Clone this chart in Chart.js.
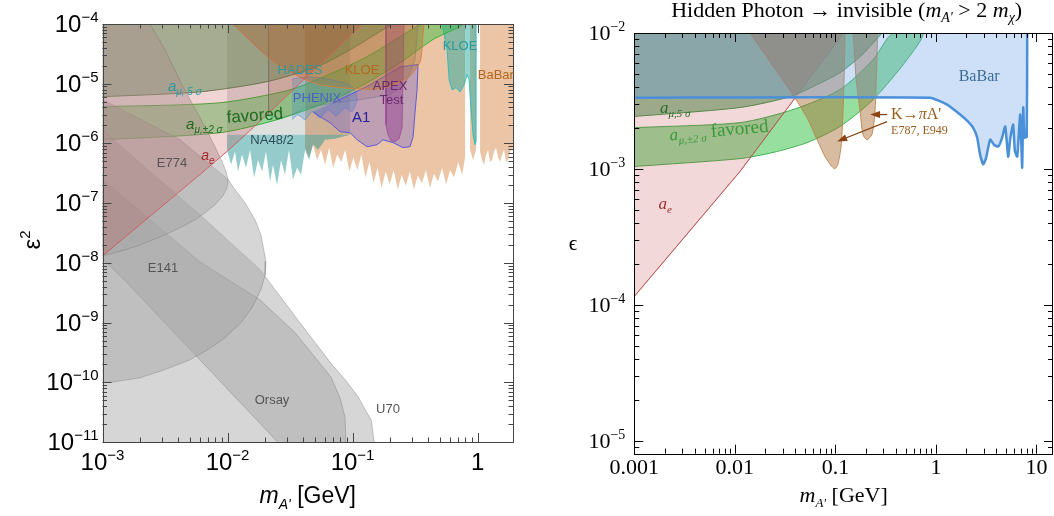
<!DOCTYPE html>
<html>
<head>
<meta charset="utf-8">
<script src="https://cdn.jsdelivr.net/npm/chart.js@4.4.1/dist/chart.umd.min.js"></script>
<style>
  html, body { margin: 0; padding: 0; background: #fff; }
  #wrap { position: relative; width: 1054px; height: 516px; overflow: hidden; }
  #left { position: absolute; left: 0; top: 0; }
  #right { position: absolute; left: 540px; top: 0; }
</style>
</head>
<body>
<div id="wrap">
  <canvas id="left" width="530" height="516"></canvas>
  <canvas id="right" width="514" height="516"></canvas>
</div>
<script>
// ---------- left panel: [m_A' (GeV), eps^2] ----------
const leftMassTicks = [1e-3, 1e-2, 1e-1, 1];
const leftMassLabels = [["10", "−3"], ["10", "−2"], ["10", "−1"], ["1", ""]];
const leftEpsTicks = [1e-4, 1e-5, 1e-6, 1e-7, 1e-8, 1e-9, 1e-10, 1e-11];
const leftEpsLabels = [["10", "−4"], ["10", "−5"], ["10", "−6"], ["10", "−7"], ["10", "−8"], ["10", "−9"], ["10", "−10"], ["10", "−11"]];

const u70 = [[1e-3, 1.7e-6], [2.4e-3, 3.36e-7], [6.0e-3, 6.4e-8], [1.82e-2, 7.7e-9], [3.8e-2, 9.9e-10], [6.7e-2, 2.1e-10], [8.71e-2, 1.11e-10], [0.111, 5.7e-11], [0.126, 3.5e-11], [0.141, 2.35e-11], [0.149, 1e-11], [0.149, 8e-12], [1e-3, 8e-12]];
const orsay = [[1e-3, 2.5e-7], [6.0e-3, 1.04e-8], [1.82e-2, 2.4e-9], [3.47e-2, 6.75e-10], [6.7e-2, 1.24e-10], [7.94e-2, 5.5e-11], [8.7e-2, 2.6e-11], [8.9e-2, 8e-12], [2.78e-2, 8e-12], [1.57e-3, 4.65e-9], [1e-3, 1.17e-8]];
const e141 = [[1e-3, 5.4e-6], [4.17e-3, 1.15e-6], [1.01e-2, 2.5e-7], [1.148e-2, 1.68e-7], [1.38e-2, 1.02e-7], [1.66e-2, 5.27e-8], [1.85e-2, 2.95e-8], [2.03e-2, 1.05e-8], [2.0e-2, 6.3e-9], [1.85e-2, 3.55e-9], [1.57e-2, 1.77e-9], [1.28e-2, 1.0e-9], [9.55e-3, 5.56e-10], [7.0e-3, 3.55e-10], [5.01e-3, 2.38e-10], [3.16e-3, 1.63e-10], [2.0e-3, 1.19e-10], [1.17e-3, 1.0e-10], [1e-3, 1.0e-10]];
const e774 = [[1e-3, 1e-4], [2.4e-3, 1e-4], [3.16e-3, 3.7e-5], [4.32e-3, 9.6e-6], [6.03e-3, 2.69e-6], [7.8e-3, 9.5e-7], [9.04e-3, 4.93e-7], [9.73e-3, 3.4e-7], [1.01e-2, 2.47e-7], [9.91e-3, 1.81e-7], [9.2e-3, 1.33e-7], [7.94e-3, 9.4e-8], [6.61e-3, 6.9e-8], [5.5e-3, 5.27e-8], [4.17e-3, 3.87e-8], [3.16e-3, 2.95e-8], [2.4e-3, 2.34e-8], [1.82e-3, 1.86e-8], [1.33e-3, 1.53e-8], [1e-3, 1.31e-8]];

const babarA = [[0.0417, 1e-4], [0.0417, 8.5e-7], [0.0449, 5.8e-7], [0.0483, 9.5e-7], [0.052, 5.3e-7], [0.056, 7.8e-7], [0.0603, 4.4e-7], [0.065, 8.5e-7], [0.07, 3.9e-7], [0.0754, 6.5e-7], [0.0812, 4.9e-7], [0.0875, 7.8e-7], [0.0942, 3.4e-7], [0.1015, 5.8e-7], [0.1093, 3.6e-7], [0.1178, 6.5e-7], [0.1268, 2.7e-7], [0.1366, 4.9e-7], [0.1472, 2.2e-7], [0.1585, 3.9e-7], [0.1707, 1.8e-7], [0.1839, 3.4e-7], [0.198, 2.05e-7], [0.2133, 3.6e-7], [0.2297, 1.7e-7], [0.2474, 3.0e-7], [0.2665, 1.95e-7], [0.287, 3.4e-7], [0.3091, 1.7e-7], [0.333, 2.9e-7], [0.3586, 2.15e-7], [0.3863, 3.6e-7], [0.416, 1.8e-7], [0.448, 3.1e-7], [0.4827, 2.3e-7], [0.52, 3.9e-7], [0.56, 2.05e-7], [0.603, 3.6e-7], [0.649, 2.7e-7], [0.699, 4.9e-7], [0.753, 3.0e-7], [0.794, 5.8e-7], [0.794, 1e-4]];
const babarB = [[0.871, 1e-4], [0.871, 7.8e-7], [0.92, 5.3e-7], [0.973, 7.8e-7], [0.973, 1e-4]];
const babarC = [[1.047, 1e-4], [1.047, 7.3e-7], [1.087, 5.3e-7], [1.127, 4.4e-7], [1.17, 6.5e-7], [1.213, 7.8e-7], [1.26, 4.9e-7], [1.306, 5.3e-7], [1.355, 7.3e-7], [1.406, 8.5e-7], [1.46, 5.8e-7], [1.514, 4.93e-7], [1.57, 6.5e-7], [1.63, 7.8e-7], [1.69, 4.9e-7], [1.754, 5.3e-7], [1.82, 7.3e-7], [1.888, 8.5e-7], [1.96, 5.8e-7], [2.03, 6.5e-7], [2.03, 1e-4]];
const na48Spikes = [[0.00991, 1.4e-6], [0.00991, 7.8e-7], [0.01067, 4.4e-7], [0.01148, 7.3e-7], [0.01213, 3.4e-7], [0.01306, 6.5e-7], [0.01406, 3.9e-7], [0.01514, 7.8e-7], [0.0163, 2.7e-7], [0.01754, 5.3e-7], [0.0189, 3.4e-7], [0.0203, 7.3e-7], [0.0219, 2.3e-7], [0.0231, 4.4e-7], [0.0249, 2.0e-7], [0.0268, 5.3e-7], [0.0288, 3.0e-7], [0.031, 7.8e-7], [0.0334, 2.5e-7], [0.036, 3.9e-7], [0.0387, 3.0e-7], [0.0417, 7.8e-7], [0.0449, 5.3e-7], [0.0483, 9.5e-7], [0.053, 7.8e-7], [0.0603, 1.15e-6], [0.0724, 1.2e-6], [0.0955, 1.4e-6]];
const na48Upper = [[0.00991, 1.4e-6], [0.0955, 1.4e-6], [0.0955, 1e-4], [0.00991, 1e-4]];
const kloeTeal = [[0.52, 1e-4], [0.57, 3.7e-5], [0.592, 1.17e-5], [0.625, 7.9e-6], [0.673, 8.6e-6], [0.724, 7.3e-6], [0.78, 9.6e-6], [0.824, 1.42e-5], [0.855, 1.17e-5], [0.887, 3.67e-6], [0.92, 1.4e-6], [0.955, 9.5e-7], [0.973, 1.1e-6], [0.973, 1e-4]];
const kloeBrown = [[0.01107, 1e-4], [0.0219, 2.62e-5], [0.0402, 1.21e-5], [0.055, 9.6e-6], [0.101, 8.25e-6], [0.166, 8.25e-6], [0.273, 1.21e-5], [0.347, 2.33e-5], [0.366, 6.6e-5], [0.373, 1e-4]];
const hades = [[0.0213, 1e-4], [0.0213, 2.9e-6], [0.0263, 2.69e-6], [0.0328, 3.0e-6], [0.0417, 3.96e-6], [0.0661, 4.62e-6], [0.1148, 5.4e-6], [0.1995, 6.55e-6], [0.263, 9.6e-6], [0.316, 2.52e-5], [0.334, 1e-4]];
const phenix = [[0.0328, 1.2e-5], [0.045, 1.3e-5], [0.07, 1.15e-5], [0.095, 9.5e-6], [0.105, 7.5e-6], [0.1087, 5.4e-6], [0.099, 3.4e-6], [0.0871, 3.96e-6], [0.0738, 2.91e-6], [0.0637, 3.67e-6], [0.055, 2.69e-6], [0.0474, 3.4e-6], [0.0417, 2.5e-6], [0.0366, 3.03e-6], [0.0328, 2.5e-6]];
const a1 = [[0.0483, 3.4e-6], [0.055, 2.8e-6], [0.0661, 2.22e-6], [0.0794, 1.57e-6], [0.0955, 1.51e-6], [0.1087, 1.15e-6], [0.1306, 8.8e-7], [0.157, 9.5e-7], [0.175, 1.15e-6], [0.211, 1.03e-6], [0.2535, 8.5e-7], [0.288, 8.8e-7], [0.305, 1.29e-6], [0.316, 3.27e-6], [0.328, 7.9e-6], [0.334, 2.1e-5], [0.24, 1.9e-5], [0.1306, 9.0e-6], [0.0698, 4.8e-6]];
const apex = [[0.185, 1e-4], [0.185, 2.06e-6], [0.192, 1.4e-6], [0.203, 1.11e-6], [0.219, 1.07e-6], [0.2355, 1.2e-6], [0.249, 1.83e-6], [0.258, 1e-4]];
const leftAe = [[1e-3, 1.31e-8], [1.13e-2, 9.4e-7], [0.119, 1e-4]];
const leftMu5 = [[1e-3, 6.05e-6], [6.0e-3, 7.3e-6], [2.06e-2, 1.08e-5], [5.2e-2, 1.93e-5], [9.55e-2, 3.7e-5], [0.175, 8.0e-5], [0.211, 1.0e-4]];
const leftMu2Upper = [[1e-3, 4.12e-6], [8.7e-3, 4.8e-6], [3.16e-2, 7.9e-6], [6.98e-2, 1.53e-5], [0.1306, 2.83e-5], [0.24, 6.1e-5], [0.366, 1e-4]];
const leftMu2Lower = [[1e-3, 1.15e-6], [8.7e-3, 1.51e-6], [2.49e-2, 2.5e-6], [6.98e-2, 5.4e-6], [0.1306, 1.04e-5], [0.24, 2.25e-5], [0.44, 5.5e-5], [0.765, 1e-4]];

// ---------- right panel: [m_A' (GeV), eps] ----------
const rightMassTicks = [0.001, 0.01, 0.1, 1, 10];
const rightMassLabels = ["0.001", "0.01", "0.1", "1", "10"];
const rightEpsTicks = [1e-2, 1e-3, 1e-4, 1e-5];
const rightEpsLabels = [["10", "−2"], ["10", "−3"], ["10", "−4"], ["10", "−5"]];

const rightBabar = [[1e-3, 3.34e-3], [0.875, 3.34e-3], [1.29, 2.97e-3], [1.74, 2.51e-3], [2.04, 2.26e-3], [2.34, 2.01e-3], [2.57, 1.70e-3], [2.75, 1.27e-3], [2.95, 1.08e-3], [3.15, 1.2e-3], [3.46, 1.64e-3], [3.8, 1.5e-3], [4.16, 1.46e-3], [4.5, 1.65e-3], [4.89, 2.05e-3], [5.23, 1.23e-3], [5.5, 1.7e-3], [5.86, 2.12e-3], [6.1, 1.35e-3], [6.43, 1.23e-3], [6.7, 1.9e-3], [6.89, 2.51e-3], [7.21, 1.02e-3], [7.38, 2.83e-3], [7.6, 1.7e-3], [8.0, 1.72e-3], [8.09, 1e-2]];
const kpiA = [[0.01416, 1e-2], [0.0397, 3.32e-3], [0.0535, 2.30e-3], [0.0658, 1.64e-3], [0.0789, 1.23e-3], [0.0923, 1.04e-3], [0.0988, 1.0e-3], [0.106, 1.08e-3], [0.114, 1.46e-3], [0.119, 2.59e-3], [0.122, 4.54e-3], [0.125, 1e-2]];
const kpiB = [[0.150, 1e-2], [0.161, 4.54e-3], [0.176, 2.68e-3], [0.188, 1.79e-3], [0.206, 1.64e-3], [0.231, 1.79e-3], [0.248, 2.68e-3], [0.259, 6.25e-3], [0.262, 1e-2]];
const rightAe = [[1e-3, 1.15e-4], [1.13e-2, 9.6e-4], [3.97e-2, 3.32e-3], [0.121, 1e-2]];
const rightMu5 = [[1e-3, 2.43e-3], [1.13e-2, 2.83e-3], [3.54e-2, 3.4e-3], [0.0628, 4.1e-3], [0.111, 5.1e-3], [0.1846, 6.92e-3], [0.292, 1e-2]];
const rightMu2Upper = [[1e-3, 2.01e-3], [1.13e-2, 2.19e-3], [3.79e-2, 2.73e-3], [0.111, 3.83e-3], [0.237, 6.37e-3], [0.375, 1e-2]];
const rightMu2Lower = [[1e-3, 1.04e-3], [1.13e-2, 1.19e-3], [2.4e-2, 1.32e-3], [5.23e-2, 1.56e-3], [0.111, 2.05e-3], [0.237, 3.23e-3], [0.516, 6.37e-3], [0.745, 1e-2]];

// ---------- helpers ----------
const sans = (s, st = "") => `${st} ${s}px "Liberation Sans", Arial, sans-serif`;
const serif = (s, st = "") => `${st} ${s}px "Liberation Serif", "Times New Roman", serif`;

const pts = (arr) => arr.map(([x, y]) => ({ x, y }));

// filled closed region drawn with the line's own path
const region = (arr, bg, border, bw = 1, tension = 0) => ({
  data: pts(arr), fill: "shape", backgroundColor: bg,
  borderColor: border || "rgba(0,0,0,0)", borderWidth: border ? bw : 0,
  pointRadius: 0, tension
});
const curve = (arr, color, bw = 1, tension = 0) => ({
  data: pts(arr), fill: false, borderColor: color, borderWidth: bw, pointRadius: 0, tension
});
const band = (upper, lower) => upper.concat(lower.slice().reverse());
const above = (arr, top) => arr.concat([[arr[arr.length - 1][0], top], [arr[0][0], top]]);

function textWidth(ctx, parts) {
  let w = 0;
  parts.forEach((p) => { ctx.font = p[1]; w += ctx.measureText(p[0]).width; });
  return w;
}
function drawParts(ctx, parts, x, y, align, color, rot) {
  const w = textWidth(ctx, parts);
  ctx.save();
  ctx.translate(x, y);
  if (rot) ctx.rotate(rot);
  let cx = align === "center" ? -w / 2 : align === "right" ? -w : 0;
  ctx.fillStyle = color;
  ctx.textBaseline = "alphabetic";
  ctx.textAlign = "left";
  parts.forEach((p) => {
    ctx.font = p[1];
    ctx.fillText(p[0], cx, p[2] || 0);
    cx += ctx.measureText(p[0]).width;
  });
  ctx.restore();
}

function logTicks(scale, cb) {
  const lo = Math.floor(Math.log10(scale.min)), hi = Math.ceil(Math.log10(scale.max));
  for (let d = lo; d <= hi; d++) {
    for (let k = 1; k <= 9; k++) {
      const v = k * Math.pow(10, d);
      if (v < scale.min * 0.999 || v > scale.max * 1.001) continue;
      cb(scale.getPixelForValue(v), k === 1);
    }
  }
}

function makeDecor(cfg) {
  return {
    id: "decor",
    afterDatasetsDraw(chart) {
      const { ctx, chartArea: a, scales: { x, y } } = chart;
      ctx.save();
      ctx.strokeStyle = cfg.frame;
      ctx.lineWidth = 1;
      ctx.beginPath();
      logTicks(x, (px, major) => {
        const L = major ? cfg.major : cfg.minor;
        px = Math.round(px) + 0.5;
        ctx.moveTo(px, a.bottom); ctx.lineTo(px, a.bottom - L);
        ctx.moveTo(px, a.top); ctx.lineTo(px, a.top + L);
      });
      logTicks(y, (py, major) => {
        const L = major ? cfg.major : cfg.minor;
        py = Math.round(py) + 0.5;
        ctx.moveTo(a.left, py); ctx.lineTo(a.left + L, py);
        ctx.moveTo(a.right, py); ctx.lineTo(a.right - L, py);
      });
      ctx.stroke();
      ctx.strokeRect(Math.round(a.left) + 0.5, Math.round(a.top) + 0.5, Math.round(a.right - a.left) - 1, Math.round(a.bottom - a.top));

      // tick labels
      cfg.xTicks.forEach((v, i) => {
        const lab = cfg.xLabels[i];
        const parts = Array.isArray(lab)
          ? [[lab[0], cfg.tickFont], [lab[1], cfg.supFont, -cfg.supRise]]
          : [[lab, cfg.tickFont]];
        drawParts(ctx, parts, x.getPixelForValue(v), a.bottom + cfg.xLabelDrop, "center", "#000");
      });
      cfg.yTicks.forEach((v, i) => {
        const lab = cfg.yLabels[i];
        const parts = [[lab[0], cfg.tickFont], [lab[1], cfg.supFont, -cfg.supRise]];
        drawParts(ctx, parts, a.left - cfg.yLabelGap, y.getPixelForValue(v) + cfg.yLabelDrop, "right", "#000");
      });

      // annotations placed in data coordinates
      cfg.labels.forEach((l) => {
        drawParts(ctx, l.parts, x.getPixelForValue(l.x), y.getPixelForValue(l.y) + l.size * 0.36,
          l.align || "center", l.color, l.rot);
      });
      (cfg.arrows || []).forEach((ar) => {
        const x0 = x.getPixelForValue(ar.from[0]), y0 = y.getPixelForValue(ar.from[1]);
        const x1 = x.getPixelForValue(ar.to[0]), y1 = y.getPixelForValue(ar.to[1]);
        const ang = Math.atan2(y1 - y0, x1 - x0);
        ctx.strokeStyle = ar.color; ctx.fillStyle = ar.color; ctx.lineWidth = 1.3;
        ctx.beginPath(); ctx.moveTo(x0, y0); ctx.lineTo(x1 - 6 * Math.cos(ang), y1 - 6 * Math.sin(ang)); ctx.stroke();
        ctx.beginPath();
        ctx.moveTo(x1, y1);
        ctx.lineTo(x1 - 10 * Math.cos(ang) + 3.5 * Math.sin(ang), y1 - 10 * Math.sin(ang) - 3.5 * Math.cos(ang));
        ctx.lineTo(x1 - 10 * Math.cos(ang) - 3.5 * Math.sin(ang), y1 - 10 * Math.sin(ang) + 3.5 * Math.cos(ang));
        ctx.closePath(); ctx.fill();
      });
      cfg.extra(ctx, a);
      ctx.restore();
    }
  };
}

function baseOptions(xr, yr, pad, yWidth, xHeight) {
  return {
    responsive: false, animation: false, devicePixelRatio: 1,
    layout: { padding: pad },
    plugins: { legend: { display: false }, tooltip: { enabled: false } },
    scales: {
      x: { type: "logarithmic", min: xr[0], max: xr[1], ticks: { display: false },
           grid: { display: false, drawTicks: false }, border: { display: false },
           afterFit(s) { s.height = xHeight; } },
      y: { type: "logarithmic", min: yr[0], max: yr[1], ticks: { display: false },
           grid: { display: false, drawTicks: false }, border: { display: false },
           afterFit(s) { s.width = yWidth; } }
    }
  };
}

function withOrder(list) {
  // first item is painted first (bottom)
  return list.map((d, i) => Object.assign(d, { order: list.length - i }));
}

// ---------- left chart ----------
const grayFill = "rgba(165,165,165,0.45)", grayLine = "rgba(110,110,110,0.45)";
const tan = "rgba(215,140,75,0.5)";
const leftDatasets = withOrder([
  region(babarA, tan),
  region(babarB, tan),
  region(babarC, tan),
  region(na48Spikes, "rgba(20,140,140,0.45)"),
  region(na48Upper, "rgba(70,80,80,0.18)"),
  region(kloeTeal, "rgba(40,170,160,0.5)", "rgba(40,190,190,0.9)", 1),
  region(above(leftMu5, 1e-4), "rgba(60,150,80,0.49)", "rgba(60,120,60,0.8)", 1, 0.25),
  region(band(leftMu2Upper, leftMu2Lower), "rgba(40,190,60,0.42)", "rgba(40,180,40,0.9)", 1, 0.25),
  region(hades, "rgba(150,110,60,0.22)", "rgba(90,120,110,0.5)", 0.8),
  region(phenix, "rgba(60,150,200,0.32)", "rgba(70,110,220,0.55)", 0.8, 0.2),
  region(a1, "rgba(110,90,210,0.35)", "rgba(80,80,220,0.9)", 1),
  region(apex, "rgba(140,50,140,0.4)", "rgba(140,50,140,0.7)", 0.8),
  region(kloeBrown, "rgba(170,110,50,0.38)", "rgba(215,125,60,0.95)", 1, 0.2),
  region(u70, grayFill, grayLine, 0.8),
  region(orsay, grayFill, grayLine, 0.8),
  region(e141, grayFill, grayLine, 0.8),
  region(e774, grayFill, grayLine, 0.8),
  region(above(leftAe, 1e-4), "rgba(190,60,60,0.22)"),
  curve(leftAe, "rgba(210,90,90,1)", 1, 0.2)
]);

const leftLabels = [
  { x: 0.038, y: 1.72e-5, size: 13, color: "#2a9aa0", parts: [["HADES", sans(13)]] },
  { x: 0.119, y: 1.72e-5, size: 13, color: "#b5651d", parts: [["KLOE", sans(13)]] },
  { x: 0.724, y: 4.33e-5, size: 13, color: "#2a9aa0", parts: [["KLOE", sans(13)]] },
  { x: 1.40, y: 1.41e-5, size: 13, color: "#b5651d", parts: [["BaBar", sans(13)]] },
  { x: 0.052, y: 5.82e-6, size: 13, color: "#4b62c8", parts: [["PHENIX", sans(13)]] },
  { x: 0.1995, y: 9.25e-6, size: 13, color: "#6b2a6b", parts: [["APEX", sans(13)]] },
  { x: 0.205, y: 5.4e-6, size: 13, color: "#6b2a6b", parts: [["Test", sans(13)]] },
  { x: 0.117, y: 2.8e-6, size: 15, color: "#23239a", parts: [["A1", sans(15)]] },
  { x: 0.0227, y: 1.15e-6, size: 13, color: "#2f4f5a", parts: [["NA48/2", sans(13)]] },
  { x: 0.00334, y: 9.25e-6, size: 15, align: "left", color: "#2a9aa0",
    parts: [["a", sans(15, "italic")], ["μ, 5 σ", sans(10, "italic"), 4]] },
  { x: 0.00466, y: 2.14e-6, size: 15, align: "left", color: "#1f6b1f",
    parts: [["a", sans(15, "italic")], ["μ,±2 σ", sans(10, "italic"), 4]] },
  { x: 0.0099, y: 2.8e-6, size: 17, align: "left", rot: -0.07, color: "#1f6b1f", parts: [["favored", sans(17)]] },
  { x: 0.00698, y: 6.45e-7, size: 14, color: "#a52a2a", parts: [["a", sans(14, "italic")], ["e", sans(10, "italic"), 4]] },
  { x: 0.0036, y: 4.75e-7, size: 13, color: "#555", parts: [["E774", sans(13)]] },
  { x: 0.00305, y: 8.3e-9, size: 13, color: "#555", parts: [["E141", sans(13)]] },
  { x: 0.0227, y: 5.1e-11, size: 13, color: "#555", parts: [["Orsay", sans(13)]] },
  { x: 0.192, y: 3.6e-11, size: 13, color: "#555", parts: [["U70", sans(13)]] }
];

new Chart(document.getElementById("left"), {
  type: "line",
  data: { datasets: leftDatasets },
  options: baseOptions([1e-3, 1.92], [1e-11, 1e-4], { left: 0, right: 17, top: 24, bottom: 0 }, 102.5, 74),
  plugins: [makeDecor({
    frame: "#444", major: 9, minor: 4.5,
    xTicks: leftMassTicks, xLabels: leftMassLabels, yTicks: leftEpsTicks, yLabels: leftEpsLabels,
    tickFont: sans(24), supFont: sans(15), supRise: 10, xLabelDrop: 28, yLabelGap: 4, yLabelDrop: 8,
    labels: leftLabels,
    extra(ctx, a) {
      drawParts(ctx, [["m", sans(23, "italic")], ["A'", sans(14, "italic"), 6], [" [GeV]", sans(23)]],
        (a.left + a.right) / 2, 503, "center", "#000");
      drawParts(ctx, [["ε", sans(24)], ["2", sans(15), -10]], 40, 240, "center", "#000", -Math.PI / 2);
    }
  })]
});

// ---------- right chart ----------
const brown = "rgba(170,110,50,0.46)", brownLine = "rgba(190,130,70,0.9)";
const rightDatasets = withOrder([
  region(above(rightMu5, 1e-2), "rgba(60,150,80,0.55)", "rgba(58,154,74,1)", 1, 0.25),
  region(band(rightMu2Upper, rightMu2Lower), "rgba(40,190,60,0.49)", "rgba(64,176,80,1)", 1, 0.25),
  region(kpiA, brown, brownLine, 1, 0.2),
  region(kpiB, brown, brownLine, 1, 0.25),
  region(above(rightAe, 1e-2), "rgba(190,60,60,0.2)", "rgba(120,120,110,0.6)", 0.8),
  curve(rightAe.slice(0, 3), "#c05050", 1, 0),
  region(above(rightBabar, 1e-2), "rgba(100,160,230,0.32)", null, 0, 0.15),
  curve(rightBabar, "#4a90d9", 2.5, 0.15)
]);

const rightLabels = [
  { x: 2.69, y: 4.85e-3, size: 16, color: "#3d6b99", parts: [["BaBar", serif(16)]] },
  { x: 0.358, y: 2.55e-3, size: 16, align: "left", color: "#9a5a1a", parts: [["K→", serif(16)], ["π", serif(16, "italic")], ["A'", serif(16)]] },
  { x: 0.358, y: 1.94e-3, size: 12, align: "left", color: "#9a5a1a", parts: [["E787, E949", serif(12)]] },
  { x: 0.0018, y: 2.87e-3, size: 17, align: "left", color: "#2b6b2b",
    parts: [["a", serif(17, "italic")], ["μ,5 σ", serif(11, "italic"), 4]] },
  { x: 0.00227, y: 1.79e-3, size: 17, align: "left", rot: -0.09, color: "#3a9a3a",
    parts: [["a", serif(17, "italic")], ["μ,±2 σ", serif(11, "italic"), 4], [" favored", serif(19)]] },
  { x: 0.00203, y: 5.65e-4, size: 17, color: "#a03030", parts: [["a", serif(17, "italic")], ["e", serif(11, "italic"), 4]] }
];
const rightArrows = [
  { from: [0.327, 2.51e-3], to: [0.2213, 2.51e-3], color: "#8b4513" },
  { from: [0.327, 2.23e-3], to: [0.104, 1.59e-3], color: "#8b4513" }
];

new Chart(document.getElementById("right"), {
  type: "line",
  data: { datasets: rightDatasets },
  options: baseOptions([1e-3, 14.6], [8e-6, 1e-2], { left: 0, right: 1, top: 33, bottom: 0 }, 94.3, 62.3),
  plugins: [makeDecor({
    frame: "#000", major: 9, minor: 5,
    xTicks: rightMassTicks, xLabels: rightMassLabels, yTicks: rightEpsTicks, yLabels: rightEpsLabels,
    tickFont: serif(22), supFont: serif(14), supRise: 9, xLabelDrop: 20, yLabelGap: 9, yLabelDrop: 7,
    labels: rightLabels, arrows: rightArrows,
    extra(ctx, a) {
      drawParts(ctx, [["Hidden Photon → invisible (", serif(22)], ["m", serif(22, "italic")], ["A'", serif(14, "italic"), 5],
        [" > 2 ", serif(22)], ["m", serif(22, "italic")], ["χ", serif(14, "italic"), 5], [")", serif(22)]],
        (a.left + a.right) / 2 + 3, 17, "center", "#000");
      drawParts(ctx, [["m", serif(22, "italic")], ["A'", serif(13, "italic"), 5], [" [GeV]", serif(22)]],
        (a.left + a.right) / 2, 502, "center", "#000");
      drawParts(ctx, [["ϵ", serif(21)]], 33, 250, "center", "#000");
    }
  })]
});
</script>
</body>
</html>
